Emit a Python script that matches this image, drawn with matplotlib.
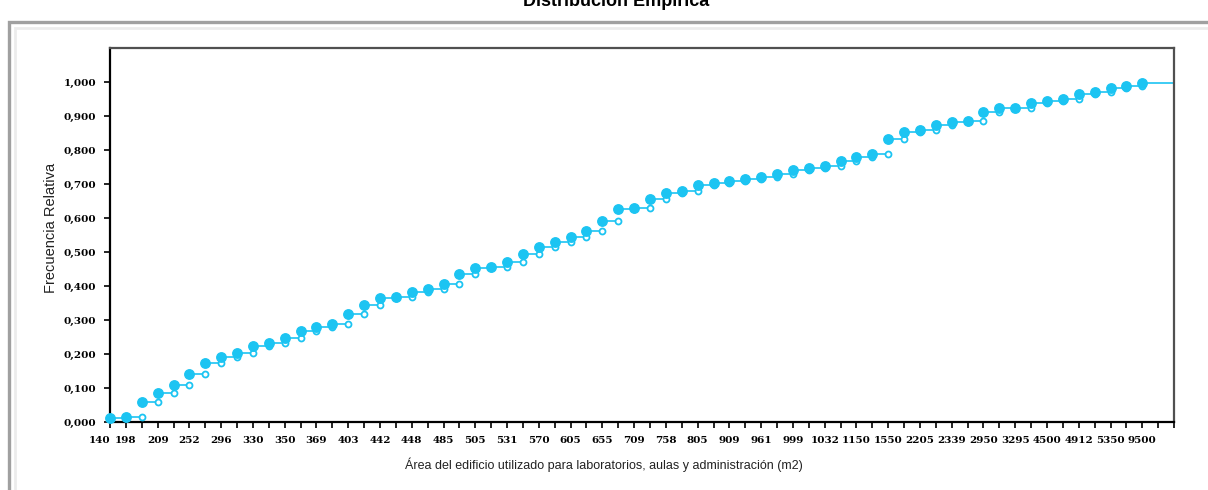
"""
Distribución empírica (ECDF) del área de edificios — réplica del gráfico de Excel.
"""
import numpy as np
import matplotlib.pyplot as plt
from matplotlib.patches import Rectangle

# ---------------------------------------------------------------------------
# Data
# ---------------------------------------------------------------------------

area_labels = [
    "140", "198", "209", "252", "296", "330", "350", "369", "403", "442",
    "448", "485", "505", "531", "570", "605", "655", "709", "758", "805",
    "909", "961", "999", "1032", "1150", "1550", "2205", "2339", "2950",
    "3295", "4500", "4912", "5350", "9500",
]

freq_rel = [
    0.013, 0.016, 0.060, 0.085, 0.108, 0.142, 0.173, 0.191, 0.202, 0.224,
    0.233, 0.246, 0.268, 0.278, 0.289, 0.318, 0.343, 0.364, 0.369, 0.382,
    0.392, 0.405, 0.436, 0.454, 0.457, 0.470, 0.494, 0.516, 0.529, 0.543,
    0.563, 0.591, 0.626, 0.628, 0.655, 0.675, 0.680, 0.697, 0.702, 0.708,
    0.716, 0.722, 0.729, 0.742, 0.748, 0.754, 0.768, 0.780, 0.787, 0.831,
    0.853, 0.858, 0.873, 0.881, 0.886, 0.913, 0.923, 0.925, 0.939, 0.944,
    0.949, 0.964, 0.972, 0.981, 0.988, 0.997,
]

y_ticks = np.round(np.arange(0, 1.01, 0.1), 1)

COLOR = "#1cc4f2"

# ---------------------------------------------------------------------------
# Figure
# ---------------------------------------------------------------------------

n = len(freq_rel)
x = np.arange(n)
x_end = n + 1  # last step runs to the right edge of the plot

fig = plt.figure(figsize=(12.08, 4.9), dpi=100)

# outer frame of the Excel chart object
fig.patches.append(Rectangle((0.0075, -0.05), 1.05, 0.955 + 0.05,
                             transform=fig.transFigure, fill=False,
                             ec="#a0a0a0", lw=2.4, zorder=0))
fig.patches.append(Rectangle((0.0125, -0.05), 1.05, 0.942 + 0.05,
                             transform=fig.transFigure, fill=False,
                             ec="#ececec", lw=2.0, zorder=0))

# title is clipped by the top edge, as in the original export
fig.text(0.51, 0.988, "Distribución Empírica", ha="center", va="baseline",
         fontsize=13, fontweight="bold", family="Liberation Sans")

ax = fig.add_axes([0.0911, 0.1388, 0.8808, 0.7632])

# horizontal step segments
ax.hlines(freq_rel[:-1], x[:-1], x[1:], color=COLOR, lw=1.2, zorder=2)
ax.hlines(freq_rel[-1], x[-1], x_end, color=COLOR, lw=1.2, zorder=2)

# open circle at the right end of each step, filled dot at the left end
ax.plot(x[1:], freq_rel[:-1], "o", ms=4.3, mfc="white", mec=COLOR, mew=1.3,
        ls="none", zorder=3, clip_on=False)
ax.plot(x, freq_rel, "o", ms=6.8, color=COLOR, mec=COLOR, ls="none",
        zorder=4, clip_on=False)

ax.set_xlim(0, x_end)
ax.set_ylim(0, 1.1)

# x axis: a tick per category, labels on every other one
label_pos = [0] + list(range(1, n, 2))
xt_labels = [""] * (x_end + 1)
for p, lab in zip(label_pos, area_labels):
    xt_labels[p] = lab
ax.set_xticks(np.arange(x_end + 1))
ax.set_xticklabels(xt_labels, fontsize=7.5, family="DejaVu Serif",
                   fontweight="bold")
ax.get_xticklabels()[0].set_ha("right")

ax.set_yticks(y_ticks)
ax.set_yticklabels([f"{v:.3f}".replace(".", ",") for v in y_ticks],
                   fontsize=7.5, family="DejaVu Serif", fontweight="bold")

ax.tick_params(axis="both", direction="out", length=4, width=1.2,
               color="black", pad=6)

for side in ("left", "bottom"):
    ax.spines[side].set_color("black")
    ax.spines[side].set_linewidth(1.6)
for side in ("top", "right"):
    ax.spines[side].set_color("#505050")
    ax.spines[side].set_linewidth(1.6)

ax.set_ylabel("Frecuencia Relativa", fontsize=10.5, family="Liberation Sans",
              color="#222222")
ax.yaxis.set_label_coords(-0.049, 0.519)
ax.set_xlabel("Área del edificio utilizado para laboratorios, aulas y administración (m2)",
              fontsize=9, family="Liberation Sans", color="#222222")
ax.xaxis.set_label_coords(0.464, -0.094)

fig.savefig("out.png", dpi=100)
